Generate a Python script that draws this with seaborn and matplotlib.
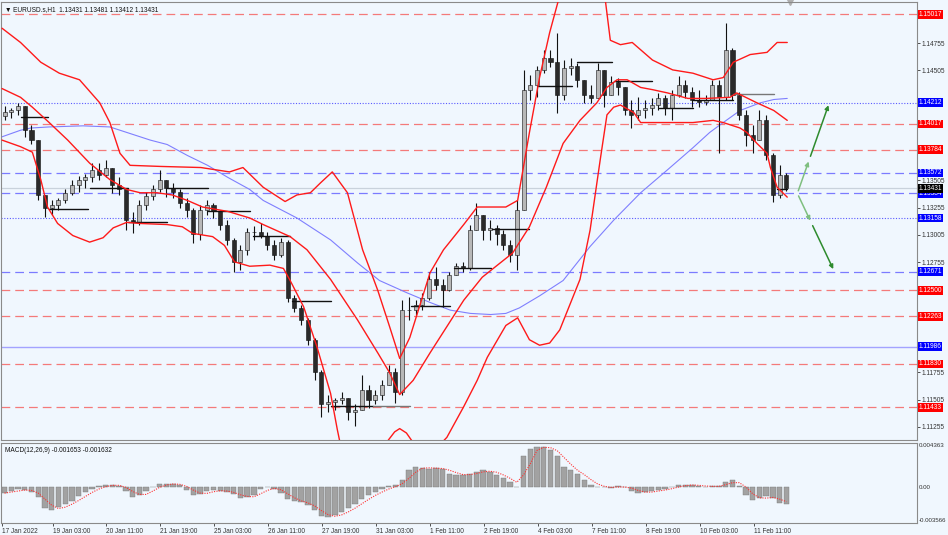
import numpy as np
import pandas as pd
import matplotlib
matplotlib.use('Agg')
import matplotlib.pyplot as plt
import matplotlib.transforms as mtransforms
import seaborn as sns

# ---- data (candles grouped by 4 hourly bars) ----
first_open = 1.1409
highs = [1.1418, 1.1416, 1.1421, 1.1413, 1.1401, 1.1387, 1.1337, 1.1332, 1.1334, 1.1342,
         1.1351, 1.1354, 1.1356, 1.1366, 1.1366, 1.1369, 1.1360, 1.1353, 1.1343, 1.1321,
         1.1332, 1.1340, 1.1346, 1.1360, 1.1351, 1.1348, 1.1342, 1.1334, 1.1325, 1.1328,
         1.1332, 1.1330, 1.1323, 1.1314, 1.1298, 1.1291, 1.1307, 1.1309, 1.1311, 1.1303,
         1.1296, 1.1298, 1.1296, 1.1246, 1.1237, 1.1225, 1.1207, 1.1177, 1.1155, 1.1152,
         1.1157, 1.1150, 1.1146, 1.1173, 1.1164, 1.1159, 1.1168, 1.1182, 1.1179, 1.1241,
         1.1244, 1.1241, 1.1248, 1.1267, 1.1271, 1.1260, 1.1267, 1.1275, 1.1276, 1.1310,
         1.1330, 1.1319, 1.1314, 1.1310, 1.1305, 1.1296, 1.1332, 1.1451, 1.1446, 1.1455,
         1.1469, 1.1469, 1.1485, 1.1460, 1.1462, 1.1457, 1.1439, 1.1437, 1.1457, 1.1442,
         1.1445, 1.1444, 1.1435, 1.1424, 1.1426, 1.1424, 1.1425, 1.1430, 1.1428, 1.1433,
         1.1445, 1.1442, 1.1435, 1.1433, 1.1428, 1.1442, 1.1442, 1.1494, 1.1471, 1.1431,
         1.1414, 1.1401, 1.1414, 1.1410, 1.1375, 1.1364, 1.1357]
lows = [1.1405, 1.1407, 1.1410, 1.1390, 1.1383, 1.1332, 1.1317, 1.1319, 1.1323, 1.1330,
        1.1337, 1.1340, 1.1343, 1.1349, 1.1351, 1.1353, 1.1339, 1.1337, 1.1305, 1.1302,
        1.1310, 1.1323, 1.1332, 1.1340, 1.1335, 1.1334, 1.1325, 1.1317, 1.1293, 1.1296,
        1.1319, 1.1316, 1.1305, 1.1291, 1.1267, 1.1269, 1.1282, 1.1296, 1.1298, 1.1287,
        1.1278, 1.1280, 1.1239, 1.1230, 1.1218, 1.1200, 1.1168, 1.1135, 1.1139, 1.1141,
        1.1146, 1.1132, 1.1126, 1.1141, 1.1143, 1.1146, 1.1150, 1.1164, 1.1147, 1.1155,
        1.1223, 1.1228, 1.1232, 1.1241, 1.1250, 1.1235, 1.1249, 1.1267, 1.1267, 1.1269,
        1.1305, 1.1296, 1.1296, 1.1291, 1.1287, 1.1276, 1.1269, 1.1323, 1.1424, 1.1426,
        1.1448, 1.1454, 1.1412, 1.1424, 1.1446, 1.1435, 1.1421, 1.1421, 1.1433, 1.1417,
        1.1431, 1.1428, 1.1410, 1.1398, 1.1405, 1.1407, 1.1410, 1.1414, 1.1410, 1.1405,
        1.1426, 1.1425, 1.1417, 1.1417, 1.1419, 1.1424, 1.1375, 1.1424, 1.1424, 1.1405,
        1.1382, 1.1375, 1.1387, 1.1369, 1.1331, 1.1334, 1.1341]
closes = [1.1413, 1.1414, 1.1418, 1.1396, 1.1387, 1.1337, 1.1325, 1.1328, 1.1332, 1.1339,
          1.1346, 1.1351, 1.1353, 1.1360, 1.1355, 1.1362, 1.1346, 1.1342, 1.1314, 1.1312,
          1.1328, 1.1336, 1.1342, 1.1351, 1.1343, 1.1340, 1.1330, 1.1323, 1.1301, 1.1323,
          1.1328, 1.1322, 1.1310, 1.1296, 1.1276, 1.1287, 1.1303, 1.1303, 1.1300, 1.1291,
          1.1282, 1.1294, 1.1243, 1.1234, 1.1223, 1.1205, 1.1176, 1.1146, 1.1148, 1.1150,
          1.1152, 1.1139, 1.1141, 1.1159, 1.1150, 1.1155, 1.1164, 1.1176, 1.1157, 1.1232,
          1.1232, 1.1237, 1.1243, 1.1260, 1.1255, 1.1250, 1.1264, 1.1272, 1.1270, 1.1305,
          1.1319, 1.1305, 1.1307, 1.1301, 1.1291, 1.1282, 1.1323, 1.1433, 1.1437, 1.1451,
          1.1462, 1.1458, 1.1428, 1.1453, 1.1455, 1.1442, 1.1428, 1.1425, 1.1451, 1.1428,
          1.1440, 1.1435, 1.1414, 1.1410, 1.1414, 1.1416, 1.1419, 1.1425, 1.1416, 1.1428,
          1.1437, 1.1431, 1.1424, 1.1422, 1.1424, 1.1437, 1.1426, 1.1469, 1.1428, 1.1410,
          1.1392, 1.1387, 1.1405, 1.1373, 1.1337, 1.1355, 1.13431]

# MACD main value per 4h candle
macd = [-0.0006, -0.0004, -0.0002, -0.0003, -0.0005, -0.0010, -0.0021, -0.0023, -0.0020, -0.0017,
        -0.0014, -0.0009, -0.0005, -0.0002, 0.0001, 0.0002, 0.0002, 0.0001, -0.0004, -0.0010,
        -0.0008, -0.0004, 0.0000, 0.0003, 0.0003, 0.0003, 0.0002, -0.0003, -0.0008, -0.0007,
        -0.0004, -0.0003, -0.0004, -0.0005, -0.0007, -0.0011, -0.0010, -0.0008, -0.0002, 0.0000,
        -0.0002, -0.0006, -0.0012, -0.0014, -0.0015, -0.0018, -0.0023, -0.0029, -0.0030, -0.0028,
        -0.0025, -0.0021, -0.0017, -0.0012, -0.0008, -0.0005, -0.0002, 0.0001, 0.0002, 0.0007,
        0.0017, 0.0020, 0.0019, 0.0018, 0.0019, 0.0018, 0.0013, 0.0012, 0.0012, 0.0013,
        0.0015, 0.0017, 0.0015, 0.0012, 0.0009, 0.0005, 0.0000, 0.0031, 0.0038, 0.0040,
        0.0040, 0.0037, 0.0031, 0.0020, 0.0017, 0.0013, 0.0007, 0.0002, 0.0000, 0.0000,
        -0.0001, 0.0001, 0.0000, -0.0004, -0.0006, -0.0005, -0.0004, -0.0003, -0.0002, 0.0000,
        0.0002, 0.0002, 0.0002, 0.0001, 0.0000, 0.0001, 0.0001, 0.0005, 0.0007, 0.0001,
        -0.0008, -0.0013, -0.0011, -0.0009, -0.0011, -0.0016, -0.001653]

# indicator lines, sampled at hourly bar numbers
bb_upper_h = [0, 11, 23, 34, 46, 58, 64, 70, 76, 94, 118, 135, 143, 155, 168, 175, 183, 189, 196,
              205, 214, 223, 230, 236, 242, 254, 262, 274, 282, 290, 299, 306, 313, 319, 325, 331,
              343, 352, 358, 361, 367, 374, 386, 398, 410, 422, 428, 434, 444, 454, 460, 466]
bb_upper = [1.1489, 1.1476, 1.1458, 1.1448, 1.1442, 1.1421, 1.1403, 1.1375, 1.1364, 1.1363, 1.1362,
            1.1358, 1.1362, 1.1344, 1.1331, 1.1337, 1.1339, 1.1348, 1.1358, 1.1339, 1.1287, 1.1250,
            1.1217, 1.1188, 1.1207, 1.1266, 1.1287, 1.1310, 1.1326, 1.1326, 1.1326, 1.1332, 1.1394,
            1.1444, 1.1485, 1.1519, 1.1551, 1.1533, 1.1515, 1.1478, 1.1474, 1.1476, 1.1460, 1.1451,
            1.1448, 1.1442, 1.1444, 1.1458, 1.1465, 1.1467, 1.1476, 1.1476]
bb_mid_h = [0, 11, 18, 28, 39, 52, 64, 74, 82, 92, 101, 110, 119, 134, 147, 155, 171, 181, 195,
            211, 223, 230, 236, 244, 254, 264, 274, 285, 303, 313, 323, 333, 343, 353, 359, 365,
            371, 379, 386, 395, 407, 418, 432, 436, 448, 458, 466]
bb_mid = [1.1434, 1.1426, 1.1417, 1.1403, 1.1387, 1.1366, 1.1351, 1.1342, 1.1339, 1.1339, 1.1337,
          1.1332, 1.1326, 1.1322, 1.1316, 1.1310, 1.1299, 1.1287, 1.1260, 1.1223, 1.1193, 1.1175,
          1.1155, 1.1168, 1.1193, 1.1217, 1.1241, 1.1262, 1.1284, 1.1308, 1.1344, 1.1384, 1.1405,
          1.1421, 1.1435, 1.1442, 1.1442, 1.1435, 1.1433, 1.1430, 1.1425, 1.1425, 1.1426, 1.1430,
          1.1421, 1.1414, 1.1405]
bb_lower_h = [0, 11, 18, 23, 27, 33, 42, 52, 60, 66, 74, 82, 98, 107, 113, 125, 132, 138, 147,
              159, 167, 171, 179, 187, 195, 199, 204, 218, 227, 233, 236, 240, 245, 254, 264, 274,
              282, 288, 299, 306, 313, 319, 325, 331, 337, 343, 349, 355, 359, 363, 367, 375, 379,
              386, 398, 410, 422, 428, 438, 442, 448, 454, 456, 460, 466]
bb_lower = [1.1387, 1.1381, 1.1376, 1.1351, 1.1326, 1.1311, 1.1300, 1.1294, 1.1298, 1.1307, 1.1312,
            1.1311, 1.1310, 1.1308, 1.1302, 1.1299, 1.1291, 1.1276, 1.1272, 1.1273, 1.1270, 1.1259,
            1.1235, 1.1198, 1.1156, 1.1123, 1.1086, 1.1086, 1.1109, 1.1121, 1.1124, 1.1120, 1.1109,
            1.1100, 1.1116, 1.1144, 1.1168, 1.1189, 1.1218, 1.1225, 1.1205, 1.1200, 1.1202, 1.1214,
            1.1237, 1.1260, 1.1305, 1.1369, 1.1410, 1.1417, 1.1419, 1.1412, 1.1403, 1.1403, 1.1403,
            1.1403, 1.1405, 1.1403, 1.1398, 1.1394, 1.1384, 1.1375, 1.1362, 1.1344, 1.1335]
ma_h = [0, 11, 17, 28, 48, 64, 74, 88, 98, 110, 122, 134, 147, 155, 175, 195, 211, 224, 240, 254,
        266, 278, 290, 299, 307, 319, 333, 349, 363, 379, 395, 410, 420, 428, 438, 450, 458, 466]
ma = [1.1390, 1.1396, 1.1398, 1.1399, 1.1400, 1.1399, 1.1394, 1.1387, 1.1383, 1.1373, 1.1364, 1.1353,
      1.1342, 1.1332, 1.1316, 1.1296, 1.1275, 1.1259, 1.1248, 1.1239, 1.1232, 1.1229, 1.1228, 1.1229,
      1.1234, 1.1245, 1.1259, 1.1290, 1.1314, 1.1339, 1.1360, 1.1380, 1.1394, 1.1403, 1.1414, 1.1421,
      1.1424, 1.1425]

# short daily level segments (start bar, end bar, price)
seg_start = [11, 28, 52, 75, 98, 122, 149, 172, 195, 220, 243, 268, 291, 318, 341, 363, 390, 410, 434, 460]
seg_end = [27, 51, 75, 98, 122, 147, 171, 195, 220, 242, 266, 290, 313, 338, 362, 386, 410, 434, 458, 466]
seg_price = [1.1408, 1.1324, 1.1343, 1.1312, 1.1343, 1.1322, 1.1300, 1.1240, 1.1145, 1.1145,
             1.1236, 1.1270, 1.1306, 1.1436, 1.1458, 1.1441, 1.1416, 1.1424, 1.1429, 1.1342]

# horizontal levels with their price tags on the right axis
level_prices = [1.15017, 1.14212, 1.14017, 1.13784, 1.13572, 1.13384, 1.13158,
                1.12671, 1.12500, 1.12263, 1.11986, 1.11830, 1.11433]
level_kinds = ['red', 'blue_dot', 'red', 'red', 'blue_dash', 'blue_dash', 'blue_dot',
               'blue_dash', 'red', 'red', 'blue_solid', 'red', 'red']
current_price = 1.13431

price_ticks = [1.11255, 1.11505, 1.11755, 1.12005, 1.12255, 1.12505, 1.12755, 1.13005,
               1.13255, 1.13505, 1.13755, 1.14005, 1.14255, 1.14505, 1.14755]

tick_bars = [0, 30, 62, 94, 126, 158, 190, 222, 254, 286, 318, 350, 382, 414, 446]
tick_labels = ['17 Jan 2022', '19 Jan 03:00', '20 Jan 11:00', '21 Jan 19:00', '25 Jan 03:00',
               '26 Jan 11:00', '27 Jan 19:00', '31 Jan 03:00', '1 Feb 11:00', '2 Feb 19:00',
               '4 Feb 03:00', '7 Feb 11:00', '8 Feb 19:00', '10 Feb 03:00', '11 Feb 11:00']

# scenario arrows
arrow_bar = [472, 491, 494]
arrow_start = 1.13384
arrow_up = 1.14212
arrow_down = 1.12671

header = '\u25bc EURUSD.s,H1  1.13431 1.13481 1.13412 1.13431'
macd_title = 'MACD(12,26,9) -0.001653 -0.001632'

# ---- styling ----
BG = '#f0f7fe'
sns.set_theme(style='white')
plt.rcParams['font.family'] = ['Liberation Sans', 'DejaVu Sans']
FS = 4.7

kind_style = {
    'red': dict(color='#f47a7a', ls=(0, (7, 4)), lw=0.9),
    'blue_dash': dict(color='#7b7bff', ls=(0, (7, 4)), lw=0.9),
    'blue_dot': dict(color='#5a5aff', ls=(0, (1, 1.5)), lw=0.8),
    'blue_solid': dict(color='#a3a3ff', ls='-', lw=1.0),
}
tag_color = {'red': '#ff0000', 'blue_dash': '#0000ff', 'blue_dot': '#0000ff', 'blue_solid': '#0000ff'}

fig = plt.figure(figsize=(9.48, 5.35), dpi=100, facecolor=BG)
ax = fig.add_axes([1 / 948, 95 / 535, 916 / 948, 438 / 535], facecolor=BG)
ax2 = fig.add_axes([1 / 948, 12 / 535, 916 / 948, 80 / 535], facecolor=BG, sharex=ax)

# ---- main price panel ----
for p, k in zip(level_prices, level_kinds):
    ax.axhline(p, zorder=1, **kind_style[k])
ax.axhline(current_price, color='#c9d2dc', lw=0.9, zorder=1)

opens = [first_open] + closes[:-1]
xc = np.arange(len(closes)) * 4 + 1.5
df = pd.DataFrame({'x': xc, 'o': opens, 'h': highs, 'l': lows, 'c': closes})
df['hi'] = df[['h', 'o', 'c']].max(axis=1)
df['lo'] = df[['l', 'o', 'c']].min(axis=1)
ax.vlines(df['x'], df['lo'], df['hi'], color='#111111', lw=0.8, zorder=3)
bull = df['c'] >= df['o']
body_h = (df['c'] - df['o']).abs().clip(lower=0.00003)
body_b = df[['o', 'c']].min(axis=1)
ax.bar(df['x'][bull], body_h[bull], bottom=body_b[bull], width=2.4, color='#b8b8b8',
       edgecolor='#111111', linewidth=0.4, zorder=4)
ax.bar(df['x'][~bull], body_h[~bull], bottom=body_b[~bull], width=2.4, color='#2a2a2a',
       edgecolor='#111111', linewidth=0.4, zorder=4)

for i, (s, e, p) in enumerate(zip(seg_start, seg_end, seg_price)):
    col = '#777777' if i in (9, 18) else '#111111'
    ax.plot([s, e], [p, p], color=col, lw=1.0, zorder=5)

sns.lineplot(x=ma_h, y=ma, ax=ax, color='#7f7fff', lw=0.8, estimator=None, sort=False, zorder=2)
for hh, vv in ((bb_upper_h, bb_upper), (bb_mid_h, bb_mid), (bb_lower_h, bb_lower)):
    sns.lineplot(x=hh, y=vv, ax=ax, color='#ff1a1a', lw=1.0, estimator=None, sort=False, zorder=6)

# arrows
green = '#2e8b2e'
for target, end_bar in ((arrow_up, arrow_bar[1]), (arrow_down, arrow_bar[2])):
    x0, y0 = arrow_bar[0], arrow_start
    xm = x0 + (end_bar - x0) * 0.38
    ym = y0 + (target - y0) * 0.38
    ax.annotate('', xy=(xm, ym), xytext=(x0, y0),
                arrowprops=dict(arrowstyle='-|>', color='#7fbf7f', lw=1.1, mutation_scale=6))
    ax.annotate('', xy=(end_bar, target), xytext=(xm, ym),
                arrowprops=dict(arrowstyle='-|>', color=green, lw=1.1, mutation_scale=6))

ax.set_xlim(-0.6, 543)
ax.set_ylim(1.11136, 1.15129)

# tick labels that would sit under a price tag are hidden, as on the terminal
tagged = level_prices + [current_price]
shown = [t for t in price_ticks if min(abs(t - q) for q in tagged) > 0.00066]
ax.yaxis.tick_right()
ax.set_yticks(price_ticks)
ax.set_yticklabels(['%.5f' % t if t in shown else '' for t in price_ticks])
ax.tick_params(axis='y', labelsize=FS, length=2, pad=1, colors='#333333', width=0.6)
ax.tick_params(axis='x', bottom=False, labelbottom=False)

tr = mtransforms.blended_transform_factory(ax.transAxes, ax.transData)
for p, k in zip(level_prices, level_kinds):
    ax.text(1.002, p, '%.5f' % p, transform=tr, ha='left', va='center', fontsize=FS,
            color='white', zorder=10, clip_on=False,
            bbox=dict(boxstyle='square,pad=0.12', fc=tag_color[k], ec='none'))
ax.text(1.002, current_price, '%.5f' % current_price, transform=tr, ha='left', va='center',
        fontsize=FS, color='white', zorder=11, clip_on=False,
        bbox=dict(boxstyle='square,pad=0.12', fc='#000000', ec='none'))

ax.text(0.004, 0.99, header, transform=ax.transAxes, ha='left', va='top', fontsize=FS,
        color='#111111')
ax.plot([467.7], [1.0], transform=mtransforms.blended_transform_factory(ax.transData, ax.transAxes),
        marker='v', ms=5, color='#b0b0b0', clip_on=False)

# ---- MACD panel ----
ax2.bar(xc, macd, width=3.2, color='#a2a2a2', edgecolor='#7a7a7a', linewidth=0.3, zorder=2)
signal = pd.Series(macd).rolling(3, min_periods=1).mean()
sns.lineplot(x=xc, y=signal.values, ax=ax2, color='#ff3030', lw=0.8, ls=(0, (1, 1.2)),
             estimator=None, sort=False, zorder=3)
ax2.set_ylim(-0.003566, 0.004363)
ax2.set_yticks([])
tr2 = mtransforms.blended_transform_factory(ax2.transAxes, ax2.transData)
ax2.text(1.002, 0.004363, '0.004363', transform=tr2, fontsize=FS - 0.3, va='top', color='#333333')
ax2.text(1.002, 0.0, '0.00', transform=tr2, fontsize=FS - 0.3, va='center', color='#333333')
ax2.text(1.002, -0.003566, '-0.003566', transform=tr2, fontsize=FS - 0.3, va='bottom',
         color='#333333')
ax2.text(0.004, 0.95, macd_title, transform=ax2.transAxes, ha='left', va='top', fontsize=FS,
         color='#111111')

ax2.set_xticks(tick_bars)
ax2.set_xticklabels(tick_labels)
ax2.tick_params(axis='x', labelsize=FS, length=2.5, pad=1, colors='#333333', width=0.6, bottom=True)
for lab in ax2.get_xticklabels():
    lab.set_ha('left')

for a in (ax, ax2):
    for sp in a.spines.values():
        sp.set_color('#8a8a8a')
        sp.set_linewidth(0.8)
    a.set_xlabel('')
    a.set_ylabel('')

fig.savefig('out.png', dpi=100, facecolor=BG)
